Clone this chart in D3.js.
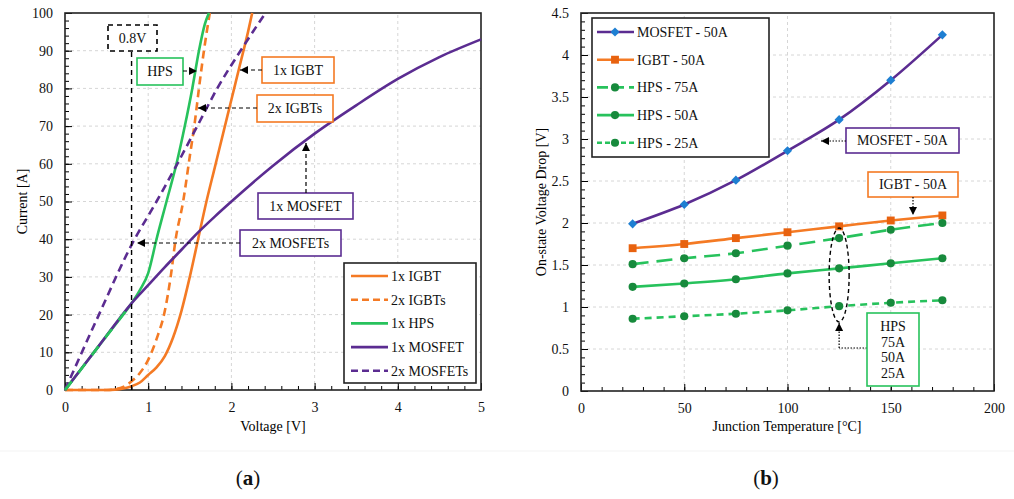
<!DOCTYPE html>
<html>
<head>
<meta charset="utf-8">
<script src="https://cdn.jsdelivr.net/npm/d3@7"></script>
<style>
  body { margin: 0; background: #fff; }
  svg { display: block; font-family: "Liberation Serif", "DejaVu Serif", serif; }
</style>
</head>
<body>
<svg width="1014" height="499"></svg>
<script>
// ---- (a) current vs voltage, [V, A] pairs
const igbt1 = [[0,0],[0.5,0],[0.6,0.1],[0.7,0.4],[0.8,1],[0.9,2],[1.0,4],[1.1,6],[1.2,9],[1.3,14],[1.4,21],[1.5,30],[1.6,40],[1.7,50],[1.8,59],[1.9,68],[2.0,77],[2.1,86],[2.2,95],[2.25,100]];
const igbt2 = [[0,0],[0.5,0],[0.6,0.2],[0.7,0.8],[0.8,2.3],[0.9,4.5],[1.0,8],[1.1,13.5],[1.2,21],[1.27,30],[1.33,40],[1.42,50],[1.5,62],[1.56,71],[1.61,80],[1.67,90],[1.74,100]];
const hps1 = [[0,0],[0.2,5.7],[0.4,11.5],[0.6,17.2],[0.8,23],[0.9,26.5],[1.0,31],[1.1,40],[1.22,50],[1.34,60],[1.44,70],[1.53,80],[1.61,90],[1.68,97],[1.73,100]];
const mosfet1 = [[0,0],[0.4,11.5],[0.8,23],[1.0,27.8],[1.2,32.6],[1.4,37.2],[1.6,41.8],[1.8,46],[2.0,50],[2.5,59.5],[3.0,68],[3.5,75.5],[4.0,82.5],[4.5,88.3],[5.0,93]];
const mosfet2 = [[0,0],[0.4,19.6],[0.8,38.5],[1.1,50],[1.35,60],[1.59,70],[1.83,80],[2.11,90],[2.41,100]];
const aXTicks = [0, 1, 2, 3, 4, 5];
const aYTicks = [0, 10, 20, 30, 40, 50, 60, 70, 80, 90, 100];
const aLegend = ["1x IGBT", "2x IGBTs", "1x HPS", "1x MOSFET", "2x MOSFETs"];

// ---- (b) on-state voltage drop vs junction temperature
const temps = [25, 50, 75, 100, 125, 150, 175];
const mosfet50 = [1.99, 2.22, 2.51, 2.86, 3.23, 3.70, 4.24];
const igbt50 = [1.70, 1.75, 1.82, 1.89, 1.96, 2.03, 2.09];
const hps75 = [1.51, 1.58, 1.64, 1.73, 1.82, 1.92, 2.00];
const hps50 = [1.24, 1.28, 1.33, 1.40, 1.46, 1.52, 1.58];
const hps25 = [0.86, 0.89, 0.92, 0.96, 1.01, 1.05, 1.08];
const bXTicks = [0, 50, 100, 150, 200];
const bYTicks = [0, 0.5, 1, 1.5, 2, 2.5, 3, 3.5, 4, 4.5];
const bLegend = ["MOSFET - 50A", "IGBT - 50A", "HPS - 75A", "HPS - 50A", "HPS - 25A"];

const ORANGE = "#f47a24", PURPLE = "#5b2c91", GREEN = "#27c25c";
const DIAMOND = "#1e7fd2", SQUARE = "#e8620f", DOT = "#178a3c";
const SERIF = "Liberation Serif";

const svg = d3.select("svg");
svg.append("rect").attr("width", 1014).attr("height", 499).attr("fill", "#fff");

const defs = svg.append("defs");
defs.append("marker").attr("id", "arr")
  .attr("viewBox", "0 0 10 10").attr("refX", 10).attr("refY", 5)
  .attr("markerWidth", 8).attr("markerHeight", 8)
  .attr("markerUnits", "userSpaceOnUse").attr("orient", "auto")
  .append("path").attr("d", "M0,0L10,5L0,10Z").attr("fill", "#000");

function frame(g, x, y, xt, yt, xMinor, yMinor) {
  const [x0, x1] = x.range(), [y0, y1] = y.range();
  const fmt = d => String(d);
  // grid
  g.append("g").selectAll("line").data(yt.slice(1, -1)).join("line")
    .attr("x1", x0).attr("x2", x1).attr("y1", d => y(d)).attr("y2", d => y(d))
    .attr("stroke", "#d6d6d6").attr("stroke-dasharray", "3,3");
  g.append("g").selectAll("line").data(xt.slice(1, -1)).join("line")
    .attr("y1", y0).attr("y2", y1).attr("x1", d => x(d)).attr("x2", d => x(d))
    .attr("stroke", "#d6d6d6").attr("stroke-dasharray", "3,3");
  // minor ticks
  g.append("g").attr("transform", `translate(0,${y0})`)
    .call(d3.axisBottom(x).tickValues(xMinor).tickSize(-4).tickFormat(""))
    .call(a => a.select(".domain").remove());
  g.append("g").attr("transform", `translate(${x0},0)`)
    .call(d3.axisLeft(y).tickValues(yMinor).tickSize(-4).tickFormat(""))
    .call(a => a.select(".domain").remove());
  // major ticks + labels
  g.append("g").attr("transform", `translate(0,${y0})`)
    .call(d3.axisBottom(x).tickValues(xt).tickFormat(fmt).tickSize(-7).tickPadding(12))
    .attr("font-family", SERIF).attr("font-size", 14)
    .call(a => a.select(".domain").remove())
    .call(a => a.selectAll("text").attr("fill", "#111"));
  g.append("g").attr("transform", `translate(${x0},0)`)
    .call(d3.axisLeft(y).tickValues(yt).tickFormat(fmt).tickSize(-7).tickPadding(12))
    .attr("font-family", SERIF).attr("font-size", 14)
    .call(a => a.select(".domain").remove())
    .call(a => a.selectAll("text").attr("fill", "#111"));
  g.append("rect").attr("x", x0).attr("y", y1).attr("width", x1 - x0).attr("height", y0 - y1)
    .attr("fill", "none").attr("stroke", "#222").attr("stroke-width", 1.6);
}

function box(g, x, y, w, h, color, lines, dash) {
  g.append("rect").attr("x", x).attr("y", y).attr("width", w).attr("height", h)
    .attr("fill", "#fff").attr("stroke", color).attr("stroke-width", 1.6)
    .attr("stroke-dasharray", dash || null);
  const lh = lines.length > 1 ? 15.5 : 0;
  lines.forEach((t, i) => {
    g.append("text").attr("x", x + w / 2).attr("y", y + h / 2 + (i - (lines.length - 1) / 2) * lh)
      .attr("dy", "0.35em").attr("text-anchor", "middle").attr("font-size", 14).attr("fill", "#111").text(t);
  });
}

function arrow(g, pts, dash) {
  g.append("path").attr("d", d3.line()(pts)).attr("fill", "none")
    .attr("stroke", "#000").attr("stroke-width", 1.2)
    .attr("stroke-dasharray", dash).attr("marker-end", "url(#arr)");
}

// ================= (a)
const xA = d3.scaleLinear([0, 5], [65, 481]);
const yA = d3.scaleLinear([0, 100], [390, 13]);
const gA = svg.append("g");
frame(gA, xA, yA, aXTicks, aYTicks, d3.range(0, 5.001, 0.2), d3.range(0, 100.1, 2));

const lineA = d3.line().x(d => xA(d[0])).y(d => yA(d[1])).curve(d3.curveMonotoneX);
const seriesA = [
  { data: igbt1, color: ORANGE, dash: null },
  { data: igbt2, color: ORANGE, dash: "8,5" },
  { data: hps1, color: GREEN, dash: null },
  { data: mosfet1, color: PURPLE, dash: null },
  { data: mosfet2, color: PURPLE, dash: "8,5" }
];
gA.append("g").selectAll("path").data(seriesA).join("path")
  .attr("d", d => lineA(d.data)).attr("fill", "none")
  .attr("stroke", d => d.color).attr("stroke-width", 2.6)
  .attr("stroke-dasharray", d => d.dash);
// HPS runs on top of the MOSFET curve below 0.8 V
gA.append("path").attr("d", lineA(hps1.filter(d => d[0] <= 0.8)))
  .attr("fill", "none").attr("stroke", GREEN).attr("stroke-width", 2.6).attr("stroke-dasharray", "11,11");

// 0.8 V marker
gA.append("line").attr("x1", xA(0.8)).attr("x2", xA(0.8)).attr("y1", yA(0)).attr("y2", 51)
  .attr("stroke", "#000").attr("stroke-width", 1.4).attr("stroke-dasharray", "5,4");
box(gA, 108, 25, 49, 26, "#000", ["0.8V"], "5,4");

box(gA, 137, 58, 46, 27, GREEN, ["HPS"]);
arrow(gA, [[183, 71], [197, 71]], "4,3");
box(gA, 262, 57, 72, 26, ORANGE, ["1x IGBT"]);
arrow(gA, [[262, 70], [240, 70]], "4,3");
box(gA, 257, 95, 76, 27, ORANGE, ["2x IGBTs"]);
arrow(gA, [[257, 108], [198, 108]], "4,3");
box(gA, 258, 193, 95, 26, PURPLE, ["1x MOSFET"]);
arrow(gA, [[306, 193], [306, 143]], "4,3");
box(gA, 240, 230, 101, 26, PURPLE, ["2x MOSFETs"]);
arrow(gA, [[240, 243], [137, 243]], "4,3");

// legend (a)
const legA = gA.append("g");
legA.append("rect").attr("x", 344).attr("y", 263).attr("width", 132).attr("height", 120)
  .attr("fill", "#fff").attr("stroke", "#222").attr("stroke-width", 1.6);
aLegend.forEach((name, i) => {
  const y = 276 + i * 23.7, s = seriesA[i];
  legA.append("line").attr("x1", 351).attr("x2", 388).attr("y1", y).attr("y2", y)
    .attr("stroke", s.color).attr("stroke-width", 2.6).attr("stroke-dasharray", s.dash ? "7,4" : null);
  legA.append("text").attr("x", 391).attr("y", y).attr("dy", "0.35em").attr("font-size", 14).attr("fill", "#111").text(name);
});

gA.append("text").attr("transform", `translate(22,${(13 + 390) / 2}) rotate(-90)`)
  .attr("text-anchor", "middle").attr("dy", "0.35em").attr("font-size", 14).text("Current [A]");
gA.append("text").attr("x", 273).attr("y", 431).attr("text-anchor", "middle").attr("font-size", 14).text("Voltage [V]");

// ================= (b)
const xB = d3.scaleLinear([0, 200], [581, 994]);
const yB = d3.scaleLinear([0, 4.5], [391, 13]);
const gB = svg.append("g");
frame(gB, xB, yB, bXTicks, bYTicks, d3.range(0, 200.1, 10), d3.range(0, 4.501, 0.1));

const seriesB = [
  { vals: mosfet50, color: PURPLE, dash: null, mark: "diamond", mc: DIAMOND },
  { vals: igbt50, color: ORANGE, dash: null, mark: "square", mc: SQUARE },
  { vals: hps75, color: GREEN, dash: "16,8", mark: "circle", mc: DOT },
  { vals: hps50, color: GREEN, dash: null, mark: "circle", mc: DOT },
  { vals: hps25, color: GREEN, dash: "7,5", mark: "circle", mc: DOT }
];
const lineB = d3.line().x(d => xB(d[0])).y(d => yB(d[1])).curve(d3.curveMonotoneX);
const sym = { diamond: d3.symbol(d3.symbolSquare, 42), square: d3.symbol(d3.symbolSquare, 62), circle: d3.symbol(d3.symbolCircle, 52) };
const rot = m => m === "diamond" ? " rotate(45)" : "";

seriesB.forEach(s => {
  const pts = temps.map((t, i) => [t, s.vals[i]]);
  gB.append("path").attr("d", lineB(pts)).attr("fill", "none")
    .attr("stroke", s.color).attr("stroke-width", 2.6).attr("stroke-dasharray", s.dash);
  gB.append("g").selectAll("path").data(pts).join("path")
    .attr("transform", d => `translate(${xB(d[0])},${yB(d[1])})${rot(s.mark)}`)
    .attr("d", sym[s.mark]()).attr("fill", s.mc);
});

// legend (b)
const legB = gB.append("g");
legB.append("rect").attr("x", 592).attr("y", 18).attr("width", 177).attr("height", 139)
  .attr("fill", "#fff").attr("stroke", "#222").attr("stroke-width", 1.6);
bLegend.forEach((name, i) => {
  const y = 32 + i * 27.7, s = seriesB[i];
  legB.append("line").attr("x1", 597).attr("x2", 634).attr("y1", y).attr("y2", y)
    .attr("stroke", s.color).attr("stroke-width", 2.6)
    .attr("stroke-dasharray", s.dash === "16,8" ? "11,5" : s.dash === "7,5" ? "5,3" : null);
  legB.append("path").attr("transform", `translate(615,${y})${rot(s.mark)}`).attr("d", sym[s.mark]()).attr("fill", s.mc);
  legB.append("text").attr("x", 637).attr("y", y).attr("dy", "0.35em").attr("font-size", 14).attr("fill", "#111").text(name);
});

box(gB, 846, 128, 113, 25, PURPLE, ["MOSFET - 50A"]);
arrow(gB, [[846, 141], [821, 141]], "1.5,1.5");
box(gB, 868, 172, 90, 25, ORANGE, ["IGBT - 50A"]);
arrow(gB, [[913, 197], [913, 215]], "1.5,1.5");

gB.append("ellipse").attr("cx", xB(125)).attr("cy", 275).attr("rx", 10).attr("ry", 47)
  .attr("fill", "none").attr("stroke", "#000").attr("stroke-width", 1.4).attr("stroke-dasharray", "4,3");
gB.append("path").attr("d", d3.line()([[867, 348], [xB(125), 348]])).attr("fill", "none")
  .attr("stroke", "#000").attr("stroke-width", 1.2).attr("stroke-dasharray", "1.5,1.5");
arrow(gB, [[xB(125), 348], [xB(125), 323]], "1.5,1.5");
box(gB, 867, 313, 52, 73, GREEN, ["HPS", "75A", "50A", "25A"]);

gB.append("text").attr("transform", `translate(541,${(13 + 391) / 2}) rotate(-90)`)
  .attr("text-anchor", "middle").attr("dy", "0.35em").attr("font-size", 14).text("On-state Voltage Drop [V]");
gB.append("text").attr("x", 787).attr("y", 431).attr("text-anchor", "middle").attr("font-size", 14).text("Junction Temperature [°C]");

// panel captions
svg.append("line").attr("x1", 0).attr("x2", 1014).attr("y1", 451).attr("y2", 451).attr("stroke", "#f3f3f3");
[["a", 248], ["b", 766]].forEach(([c, x]) => {
  const t = svg.append("text").attr("x", x).attr("y", 485).attr("text-anchor", "middle").attr("font-size", 21).attr("fill", "#111");
  t.append("tspan").text("(");
  t.append("tspan").attr("font-weight", "bold").text(c);
  t.append("tspan").text(")");
});
</script>
</body>
</html>
